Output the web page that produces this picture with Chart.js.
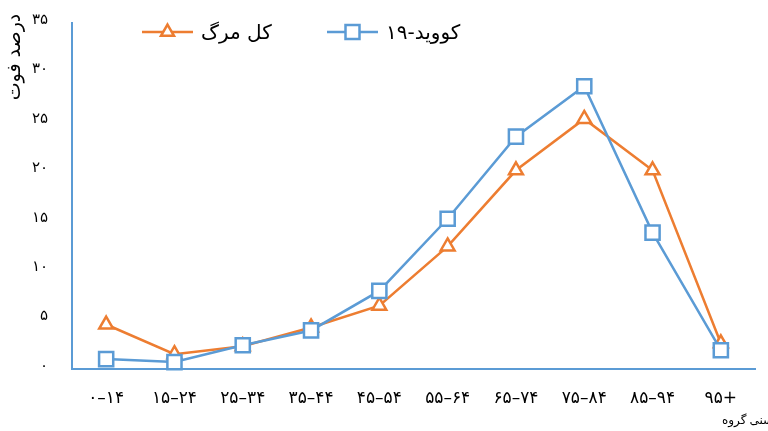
<!DOCTYPE html>
<html>
<head>
<meta charset="utf-8">
<script src="https://cdn.jsdelivr.net/npm/chart.js@4/dist/chart.umd.min.js"></script>
<style>
  html, body { margin: 0; padding: 0; background: #ffffff; }
  #wrap { width: 768px; height: 431px; }
</style>
</head>
<body>
<div id="wrap"><canvas id="c" width="768" height="431"></canvas></div>
<script>
// Age groups (x axis categories)
const ageGroups = ['۰–۱۴', '۱۵–۲۴', '۲۵–۳۴', '۳۵–۴۴', '۴۵–۵۴', '۵۵–۶۴', '۶۵–۷۴', '۷۵–۸۴', '۸۵–۹۴', '۹۵+'];

// Share of deaths per age group, percent
const totalDeathShare = [4.5, 1.5, 2.3, 4.2, 6.4, 12.4, 20.1, 25.3, 20.1, 2.6];
const covidDeathShare = [1.0, 0.7, 2.4, 3.9, 7.9, 15.2, 23.5, 28.6, 13.8, 1.9];

// Series names and y tick labels (Persian digits)
const seriesNames = ['کل مرگ', 'کووید-۱۹'];
const yTickLabels = ['۰', '۵', '۱۰', '۱۵', '۲۰', '۲۵', '۳۰', '۳۵'];

// Axis titles
const yAxisTitle = 'درصد فوت';
const xAxisTitleWords = ['گروه', 'سنی'];

const ORANGE = '#ED7D31';
const BLUE = '#5B9BD5';
const FONT = '"DejaVu Sans", sans-serif';

// Legend: short line with the series marker in its middle, then the name
const lineLegend = {
  id: 'lineLegend',
  afterDraw(chart) {
    const ctx = chart.ctx;
    const entries = [
      { ds: chart.data.datasets[1], x0: 142 },
      { ds: chart.data.datasets[0], x0: 327 }
    ];
    const y = 32;
    ctx.save();
    entries.forEach(({ ds, x0 }) => {
      ctx.strokeStyle = ds.borderColor;
      ctx.lineWidth = 2.5;
      ctx.beginPath();
      ctx.moveTo(x0, y);
      ctx.lineTo(x0 + 51, y);
      ctx.stroke();
      const cx = x0 + 25.5;
      ctx.fillStyle = '#ffffff';
      ctx.beginPath();
      if (ds.pointStyle === 'triangle') {
        const r = 7.5;
        ctx.moveTo(cx, y - r);
        ctx.lineTo(cx + r * Math.sin(Math.PI * 2 / 3), y - r * Math.cos(Math.PI * 2 / 3));
        ctx.lineTo(cx + r * Math.sin(Math.PI * 4 / 3), y - r * Math.cos(Math.PI * 4 / 3));
        ctx.closePath();
      } else {
        const h = 7;
        ctx.rect(cx - h, y - h, 2 * h, 2 * h);
      }
      ctx.fill();
      ctx.stroke();
      ctx.fillStyle = '#000000';
      ctx.font = '20px ' + FONT;
      ctx.textAlign = 'left';
      ctx.textBaseline = 'middle';
      ctx.fillText(ds.label, x0 + 59, y + 2);
    });
    ctx.restore();
  }
};

// Axis titles drawn at the top-left and bottom-right corners
const cornerTitles = {
  id: 'cornerTitles',
  afterDraw(chart) {
    const ctx = chart.ctx;
    ctx.save();
    ctx.direction = 'ltr';
    ctx.fillStyle = '#000000';
    ctx.textBaseline = 'middle';
    // y title, rotated
    ctx.save();
    ctx.font = '19px ' + FONT;
    ctx.translate(15, 57);
    ctx.rotate(-Math.PI / 2);
    ctx.textAlign = 'center';
    ctx.fillText(yAxisTitle, 0, 0);
    ctx.restore();
    // x title, word by word from the left
    ctx.font = '12px ' + FONT;
    ctx.textAlign = 'left';
    const w0 = ctx.measureText(xAxisTitleWords[0]).width;
    ctx.fillText(xAxisTitleWords[0], 722, 421);
    ctx.fillText(xAxisTitleWords[1], 722 + w0 + 3, 421);
    ctx.restore();
  }
};

new Chart(document.getElementById('c'), {
  type: 'line',
  data: {
    labels: ageGroups,
    datasets: [
      {
        label: seriesNames[1],
        data: covidDeathShare,
        borderColor: BLUE,
        backgroundColor: '#ffffff',
        borderWidth: 2.5,
        pointStyle: 'rect',
        pointRadius: 10,
        pointBorderWidth: 2.5,
        pointBackgroundColor: '#ffffff',
        pointBorderColor: BLUE,
        tension: 0,
        clip: false,
        order: 0
      },
      {
        label: seriesNames[0],
        data: totalDeathShare,
        borderColor: ORANGE,
        backgroundColor: '#ffffff',
        borderWidth: 2.5,
        pointStyle: 'triangle',
        pointRadius: 8,
        pointBorderWidth: 2.5,
        pointBackgroundColor: '#ffffff',
        pointBorderColor: ORANGE,
        tension: 0,
        clip: false,
        order: 1
      }
    ]
  },
  options: {
    responsive: false,
    devicePixelRatio: 1,
    animation: false,
    layout: { autoPadding: false, padding: { top: 23, right: 13, left: 0, bottom: 0 } },
    plugins: {
      legend: { display: false },
      tooltip: { enabled: false },
      title: { display: false }
    },
    scales: {
      x: {
        offset: true,
        grid: { display: false, drawTicks: false },
        border: { display: true, color: BLUE, width: 2 },
        ticks: {
          color: '#000000',
          font: { family: FONT, size: 17 },
          padding: 19,
          maxRotation: 0,
          autoSkip: false
        },
        afterFit(scale) {
          scale.height = 62;
          scale.paddingLeft = 0;
          scale.paddingRight = 0;
        }
      },
      y: {
        min: 0,
        max: 35,
        grid: { display: false, drawTicks: false },
        border: { display: true, color: BLUE, width: 2 },
        ticks: {
          stepSize: 5,
          color: '#000000',
          font: { family: FONT, size: 15 },
          padding: 24,
          labelOffset: -3,
          callback: (v) => yTickLabels[Math.round(v / 5)]
        },
        afterFit(scale) {
          scale.width = 72;
          scale.paddingTop = 0;
          scale.paddingBottom = 0;
        }
      }
    }
  },
  plugins: [lineLegend, cornerTitles]
});
</script>
</body>
</html>
